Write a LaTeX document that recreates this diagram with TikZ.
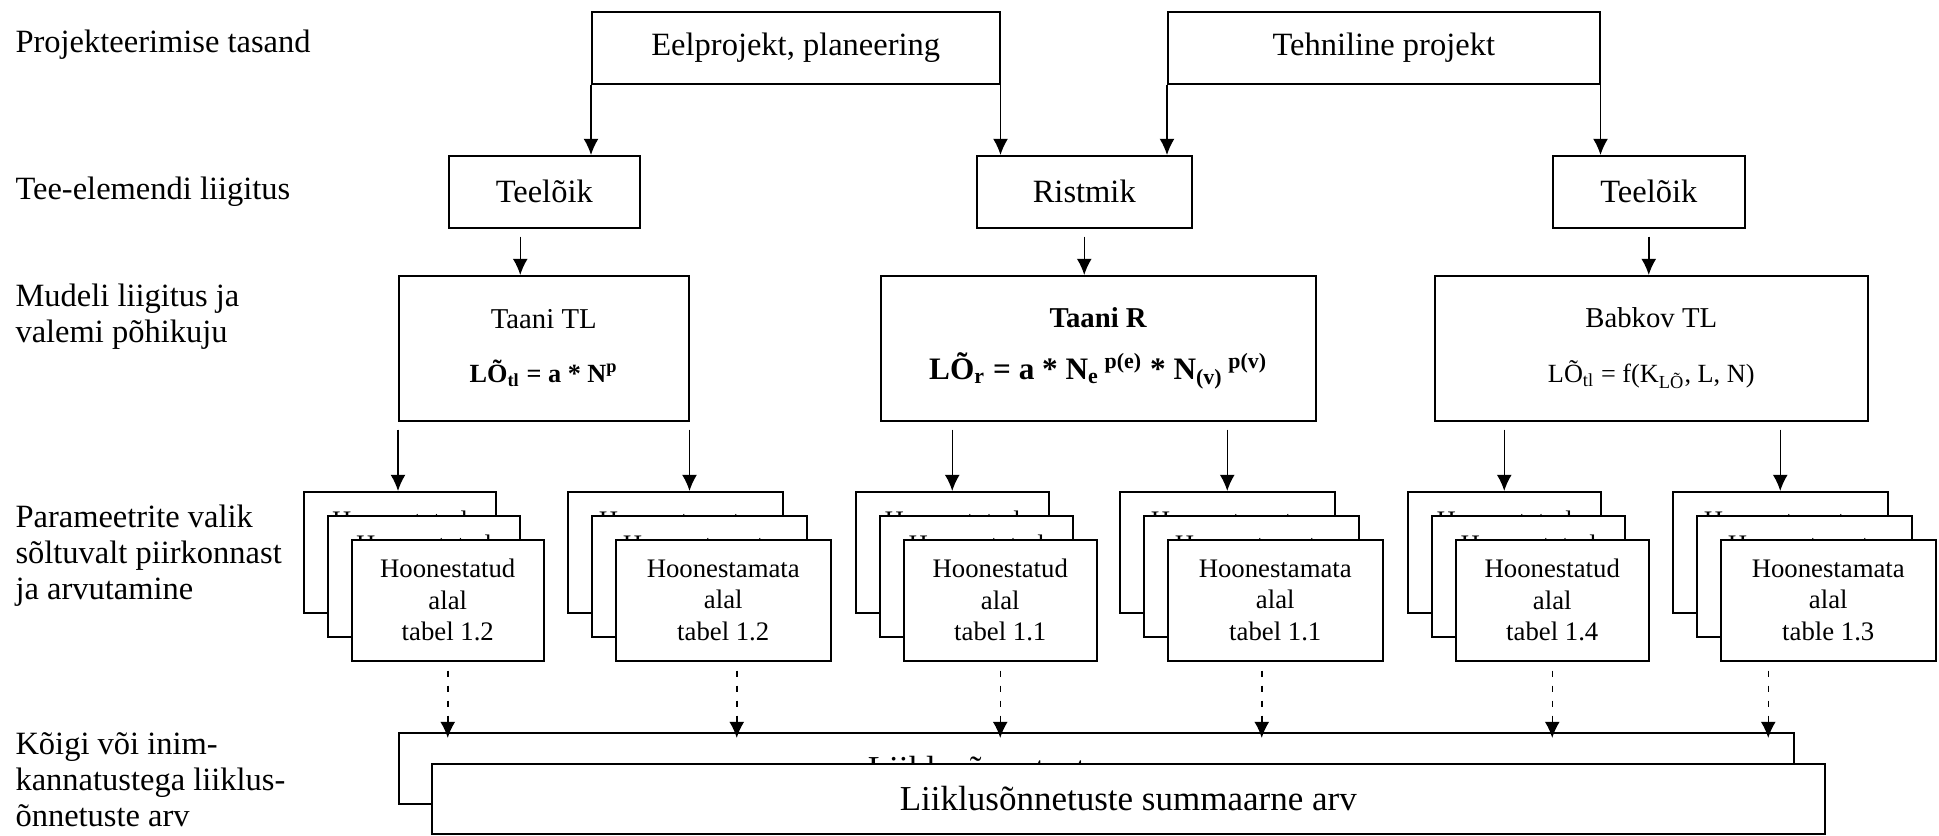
\documentclass[tikz,border=0pt]{standalone}
\usepackage{fontspec}
\setmainfont{Liberation Serif}
\usetikzlibrary{arrows.meta}
\newcommand{\labfont}{\fontsize{13}{14.4}\selectfont}
\newcommand{\boxfont}{\fontsize{13}{15.6}\selectfont}
\newcommand{\modfont}{\fontsize{11.5}{13.8}\selectfont}
\newcommand{\stackfont}{\fontsize{10.7}{12.6}\selectfont}
\newcommand{\sumfont}{\fontsize{14}{16.8}\selectfont}

\begin{document}
\begin{tikzpicture}[x=0.4pt,y=-0.4pt,>={Latex[length=6.5pt,width=6pt]},
	box/.style={draw,line width=0.6pt,fill=white,inner sep=0pt,anchor=north west,align=center},
	level/.style={anchor=west,inner sep=0pt,align=left,font=\labfont},
	flow/.style={->,line width=0.6pt},
	dflow/.style={->,line width=0.6pt,dash pattern=on 2.6pt off 3.4pt}]
	\useasboundingbox (0,0) rectangle (1939,835);
	\node[level] (lev1) at (15,45) {Projekteerimise tasand};
	\node[level] (lev2) at (15,192) {Tee-elemendi liigitus};
	\node[level] (lev3) at (15,317) {Mudeli liigitus ja\\valemi põhikuju};
	\node[level] (lev4) at (15,556) {Parameetrite valik\\sõltuvalt piirkonnast\\ja arvutamine};
	\node[level] (lev5) at (15,780) {Kõigi või inim-\\kannatustega liiklus-\\õnnetuste arv};

	\node[box,font=\boxfont,minimum width=163.2pt,minimum height=28.8pt] (eel) at (591,11) {Eelprojekt, planeering};
	\node[box,font=\boxfont,minimum width=172.8pt,minimum height=28.8pt] (teh) at (1167,11) {Tehniline projekt};

	\node[box,font=\boxfont,minimum width=76.4pt,minimum height=28.8pt] (tla) at (448,155) {Teelõik};
	\node[box,font=\boxfont,minimum width=86pt,minimum height=28.8pt] (ris) at (976,155) {Ristmik};
	\node[box,font=\boxfont,minimum width=76.8pt,minimum height=28.8pt] (tlb) at (1552,155) {Teelõik};

	\node[box,font=\modfont,minimum width=116pt,minimum height=58pt] (mta) at (398,275)
		{Taani TL\\[8pt]{\fontsize{10.5}{13}\selectfont\bfseries LÕ\textsubscript{tl} = a * N\textsuperscript{p}}};
	\node[box,font=\modfont,minimum width=174pt,minimum height=58pt] (mtr) at (880,275)
		{\textbf{Taani R}\\[7pt]{\fontsize{12.5}{15}\selectfont\bfseries LÕ\textsubscript{r} = a * N\textsubscript{e}\textsuperscript{ p(e)} * N\textsubscript{(v)}\textsuperscript{ p(v)}}};
	\node[box,font=\modfont,minimum width=173.2pt,minimum height=58pt] (mbt) at (1434,275)
		{Babkov TL\\[8pt]{\fontsize{10.5}{13}\selectfont LÕ\textsubscript{tl} = f(K\textsubscript{LÕ}, L, N)}};

	\foreach \i/\x/\w/\txt in {
		1/303/76.8pt/{Hoonestatud\\alal\\tabel 1.2},
		2/567/86pt/{Hoonestamata\\alal\\tabel 1.2},
		3/855/77.2pt/{Hoonestatud\\alal\\tabel 1.1},
		4/1119/86pt/{Hoonestamata\\alal\\tabel 1.1},
		5/1407/77.2pt/{Hoonestatud\\alal\\tabel 1.4},
		6/1672/86pt/{Hoonestamata\\alal\\table 1.3}} {
		\foreach \k in {0,1,2} {
			\node[box,font=\stackfont,minimum width=\w,minimum height=48.4pt] (st\i-\k) at (\x+24*\k,491+24*\k) {\txt};
		}
	}

	\node[box,font=\sumfont,minimum width=558pt,minimum height=28.4pt] (sumA) at (398,732) {Liiklusõnnetuste summaarne arv};
	\node[box,font=\sumfont,minimum width=557.2pt,minimum height=28pt] (sumB) at (431,763) {Liiklusõnnetuste summaarne arv};

	\draw[flow] (eel.south west) -- (eel.south west |- tla.north);
	\draw[flow] (eel.south east) -- (eel.south east |- ris.north);
	\draw[flow] (teh.south west) -- (teh.south west |- ris.north);
	\draw[flow] (teh.south east) -- (teh.south east |- tlb.north);

	\draw[flow,shorten <=3.2pt] ([xshift=-9.6pt]tla.south) -- ([xshift=-9.6pt]tla.south |- mta.north);
	\draw[flow,shorten <=3.2pt] (ris.south) -- (ris.south |- mtr.north);
	\draw[flow,shorten <=3.2pt] (tlb.south) -- (tlb.south |- mbt.north);

	\draw[flow,shorten <=3.2pt] (mta.south west) -- (mta.south west |- st1-0.north);
	\draw[flow,shorten <=3.2pt] (mta.south east) -- (mta.south east |- st2-0.north);
	\foreach \i/\m in {3/mtr,4/mtr,5/mbt,6/mbt}
		\draw[flow,shorten <=3.2pt] (st\i-0.north |- \m.south) -- (st\i-0.north);

	\foreach \i/\dx in {1/0,2/13.5,3/0,4/-13.5,5/0,6/-60}
		\draw[dflow,shorten <=3.6pt,shorten >=-2.4pt] ([xshift=\dx*0.4pt]st\i-2.south) -- ([xshift=\dx*0.4pt]st\i-2.south |- sumA.north);
\end{tikzpicture}
\end{document}
